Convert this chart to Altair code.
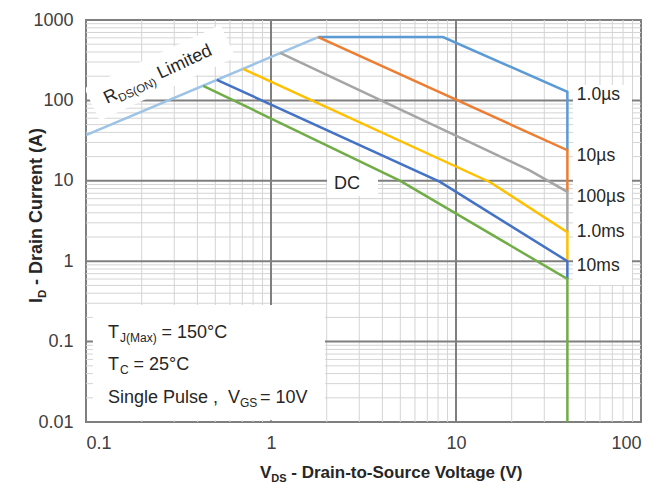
import altair as alt
import pandas as pd

# Maximum safe operating area: drain-to-source voltage (V) against drain current (A)
rds_v = [0.1, 1.8]
rds_i = [37, 614]

us1_v = [1.8, 8.5, 40, 40]
us1_i = [614, 614, 128, 24]

us10_v = [1.8, 40, 40]
us10_i = [614, 24, 7.3]

us100_v = [1.12, 25, 40, 40]
us100_i = [389, 13.5, 7.3, 2.3]

ms1_v = [0.706, 15.3, 40, 40]
ms1_i = [247, 9.6, 2.3, 1.0]

ms10_v = [0.51, 8.2, 40, 40]
ms10_i = [180, 9.7, 1.0, 0.6]

dc_v = [0.43, 5.0, 40, 40]
dc_i = [152, 10, 0.6, 0.01]

series_names = ["RDS(ON)", "1.0µs", "10µs", "100µs", "1.0ms", "10ms", "DC"]
series_colors = ["#9dc3e6", "#5b9bd5", "#ed7d31", "#a5a5a5", "#ffc000", "#4472c4", "#70ad47"]
series_points = [
    (rds_v, rds_i), (us1_v, us1_i), (us10_v, us10_i), (us100_v, us100_i),
    (ms1_v, ms1_i), (ms10_v, ms10_i), (dc_v, dc_i),
]

# Axis ticks and grid
x_major = [0.1, 1, 10, 100]
y_major = [0.01, 0.1, 1, 10, 100, 1000]
x_minor = [m * d for d in [0.1, 1, 10] for m in range(2, 10)]
y_minor = [m * d for d in [0.01, 0.1, 1, 10, 100] for m in range(2, 10)]

# Pulse-width labels beside the 40 V limit
pulse_labels = ["1.0µs", "10µs", "100µs", "1.0ms", "10ms"]
pulse_label_i = [116.8, 20.3, 6.29, 2.31, 0.872]
pulse_label_v = 45

FONT = "Liberation Sans"
TEXT = "#262626"
W, H = 555, 402

xs = alt.Scale(type="log", domain=[0.1, 100], nice=False)
ys = alt.Scale(type="log", domain=[0.01, 1000], nice=False)
xaxis = alt.Axis(values=x_major, format="~g", grid=False, ticks=False, domain=False,
                 title=None, labelFontSize=18, labelFont=FONT, labelColor="#404040",
                 labelPadding=12)
yaxis = alt.Axis(values=y_major, format="~g", grid=False, ticks=False, domain=False,
                 title=None, labelFontSize=18, labelFont=FONT, labelColor="#404040",
                 labelPadding=13)
X = lambda f="v": alt.X(f"{f}:Q", scale=xs, axis=xaxis)
Y = lambda f="i": alt.Y(f"{f}:Q", scale=ys, axis=yaxis)

layers = []

# grid
layers.append(alt.Chart(pd.DataFrame({"v": x_minor})).mark_rule(color="#d4d4d4", strokeWidth=1).encode(x=X()))
layers.append(alt.Chart(pd.DataFrame({"i": y_minor})).mark_rule(color="#d4d4d4", strokeWidth=1).encode(y=Y()))
layers.append(alt.Chart(pd.DataFrame({"v": x_major[1:-1]})).mark_rule(color="#7f7f7f", strokeWidth=2).encode(x=X()))
layers.append(alt.Chart(pd.DataFrame({"i": y_major[1:-1]})).mark_rule(color="#7f7f7f", strokeWidth=2).encode(y=Y()))

# white backgrounds behind annotations
boxes = pd.DataFrame({
    "v": [0.109, 2.008, 42.9],
    "v2": [1.958, 3.787, 89.4],
    "i": [0.285, 13.62, 155.4],
    "i2": [0.0105, 6.47, 0.506],
})
layers.append(alt.Chart(boxes).mark_rect(color="white").encode(
    x=X(), x2="v2:Q", y=Y(), y2="i2:Q"))
band = pd.DataFrame({"v": [0.1077, 0.5856], "i": [89.0, 548.0], "k": [0, 1]})
layers.append(alt.Chart(band).mark_line(color="white", strokeWidth=36, strokeCap="butt", clip=True).encode(
    x=X(), y=Y(), order="k:Q"))

# SOA curves
for name, color, (vv, ii) in zip(series_names, series_colors, series_points):
    df = pd.DataFrame({"v": vv, "i": ii, "k": list(range(len(vv))), "series": name})
    layers.append(alt.Chart(df).mark_line(color=color, strokeWidth=2.5, clip=True).encode(
        x=X(), y=Y(), order="k:Q"))

# in-plot text
def label(v, i, text, size=18, dx=0, dy=0, angle=0, align="left", baseline="alphabetic"):
    kw = dict(font=FONT, fontSize=size, color=TEXT, align=align, baseline=baseline)
    if dx:
        kw["dx"] = dx
    if dy:
        kw["dy"] = dy
    if angle:
        kw["angle"] = angle
    return alt.Chart(pd.DataFrame({"v": [v], "i": [i], "t": [text]})).mark_text(**kw).encode(
        x=X(), y=Y(), text="t:N")

layers.append(alt.Chart(pd.DataFrame({"v": [pulse_label_v] * 5, "i": pulse_label_i, "t": pulse_labels}))
              .mark_text(font=FONT, fontSize=17.5, color=TEXT, align="left", baseline="middle")
              .encode(x=X(), y=Y(), text="t:N"))
layers.append(label(2.576, 9.12, "DC", align="center", baseline="middle"))

layers += [
    label(0.1299, 90.2, "R", angle=335),
    label(0.1299, 90.2, "DS(ON)", size=11.5, dx=13, dy=4, angle=335),
    label(0.1299, 90.2, "Limited", dx=59, angle=335),
]

bx = 0.1315
layers += [
    label(bx, 0.1109, "T"),
    label(bx, 0.1109, "J(Max)", size=12, dx=12, dy=4),
    label(bx, 0.1109, "= 150°C", dx=53.5),
    label(bx, 0.04434, "T"),
    label(bx, 0.04434, "C", size=12, dx=12, dy=4),
    label(bx, 0.04434, "= 25°C", dx=25.5),
    label(bx, 0.01723, "Single Pulse ,"),
    label(bx, 0.01723, "V", dx=120),
    label(bx, 0.01723, "GS", size=12, dx=132, dy=4),
    label(bx, 0.01723, "= 10V", dx=152),
]

# axis titles with subscripts
def title(px, py, text, size=17, dx=0, dy=0, angle=0):
    kw = dict(font=FONT, fontSize=size, fontWeight="bold", color=TEXT, align="left", baseline="alphabetic")
    if dx:
        kw["dx"] = dx
    if dy:
        kw["dy"] = dy
    if angle:
        kw["angle"] = angle
    return alt.Chart(pd.DataFrame({"t": [text]})).mark_text(**kw).encode(
        x=alt.value(px), y=alt.value(py), text="t:N")

layers += [
    title(174, 458, "V"),
    title(174, 458, "DS", size=11, dx=11.3, dy=4),
    title(174, 458, "- Drain-to-Source Voltage (V)", dx=31.3),
    title(-44.5, 283, "I", size=18, angle=270),
    title(-44.5, 283, "D", size=11.5, dx=5, dy=4, angle=270),
    title(-44.5, 283, "- Drain Current (A)", size=18, dx=18, angle=270),
]

chart = alt.layer(*layers).properties(
    width=W, height=H,
    padding={"left": 86, "top": 20, "right": 27, "bottom": 62},
    autosize=alt.AutoSizeParams(type="none"),
    background="white",
).configure_view(stroke="#7f7f7f", strokeWidth=2)

chart.save("out.html", embed_options={"renderer": "svg", "actions": False})
